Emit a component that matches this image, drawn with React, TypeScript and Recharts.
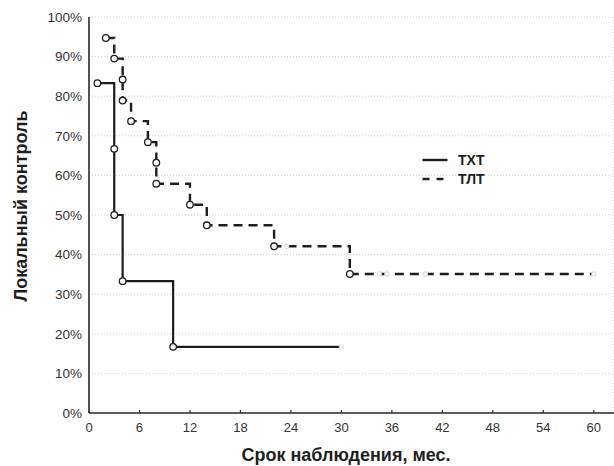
import React from "react";
import { LineChart, Line, XAxis, YAxis, CartesianGrid } from "recharts";

// Kaplan–Meier curves: time (months), survival (%), censored flag
const txtTimes = [1, 3, 3, 4, 10, 30];
const txtValues = [83.3, 66.7, 50.0, 33.3, 16.7, 16.7];
const txtCensored = [false, false, false, false, false, true];

const tltTimes = [2, 3, 4, 4, 5, 7, 8, 8, 12, 14, 22, 23.5, 31, 34.5, 35.4, 40, 60];
const tltValues = [94.7, 89.5, 84.2, 78.9, 73.7, 68.4, 63.2, 57.9, 52.6, 47.4, 42.1, 42.1, 35.1, 35.1, 35.1, 35.1, 35.1];
const tltCensored = [false, false, false, false, false, false, false, false, false, false, false, true, false, true, true, true, true];

const xTicks = [0, 6, 12, 18, 24, 30, 36, 42, 48, 54, 60];
const yTicks = [0, 10, 20, 30, 40, 50, 60, 70, 80, 90, 100];
const topTicks = [2.1, 10.8, 19.5, 28.2, 36.9, 45.6, 54.3];

const seriesNames = ["ТХТ", "ТЛТ"];
const xLabel = "Срок наблюдения, мес.";
const yLabel = "Локальный контроль";

const build = (t: number[], v: number[], c: boolean[]) =>
  t.map((time, i) => ({ time, value: v[i], censored: c[i] }));

const txtData = build(txtTimes, txtValues, txtCensored);
const tltData = build(tltTimes, tltValues, tltCensored);

const FONT = "'Liberation Sans', Arial, sans-serif";
const INK = "#1e1e1e";

const Dot = (props: any) => {
  const { cx, cy, payload, index } = props;
  if (cx == null || cy == null) return <g key={index} />;
  if (payload.censored) {
    return <circle key={index} cx={cx} cy={cy} r={2.2} fill="#fff" stroke="#d8d8d8" strokeWidth={1} />;
  }
  return <circle key={index} cx={cx} cy={cy} r={3.3} fill="#fff" stroke={INK} strokeWidth={1.3} />;
};

const BOTTOM_MARGIN = 10;
const BottomTick = (props: any) => {
  const { x, y, payload } = props;
  const axisY = y - BOTTOM_MARGIN;
  return (
    <g>
      <line x1={x} x2={x} y1={axisY} y2={axisY - 3} stroke="#333" strokeWidth={1.2} />
      <text x={x} y={y} dy="0.71em" textAnchor="middle" fontSize={13} fill="#333" fontFamily={FONT}>
        {payload.value}
      </text>
    </g>
  );
};

const TopTick = (props: any) => {
  const { x, y } = props;
  return <line x1={x} x2={x} y1={y} y2={y + 3} stroke="#444" strokeWidth={1.4} />;
};

const LeftTick = (props: any) => {
  const { x, y, payload } = props;
  return (
    <text x={x} y={y} dy="0.355em" textAnchor="end" fontSize={13.5} fill="#333" fontFamily={FONT}>
      {`${payload.value}%`}
    </text>
  );
};

const LegendBox = () => (
  <div
    style={{
      position: "absolute",
      left: 422,
      top: 151,
      fontFamily: FONT,
      fontWeight: 700,
      fontSize: 14,
      color: INK,
      lineHeight: "18px",
    }}
  >
    {seriesNames.map((name, i) => (
      <div key={name} style={{ display: "flex", alignItems: "center", height: 18.5 }}>
        <svg width={26} height={10} style={{ marginRight: 10 }}>
          <line
            x1={0.5}
            x2={25.5}
            y1={5}
            y2={5}
            stroke={INK}
            strokeWidth={2.4}
            strokeDasharray={i === 1 ? "7 7" : undefined}
          />
        </svg>
        <span>{name}</span>
      </div>
    ))}
  </div>
);

export default function App() {
  return (
    <div style={{ position: "absolute", left: 0, top: 0, width: 614, height: 466, overflow: "hidden", background: "#fff" }}>
      <LineChart width={614} height={466} margin={{ top: 17, right: 0, bottom: 0, left: 0 }}>
        <CartesianGrid stroke="#cfcfcf" strokeDasharray="1 2" />
        <XAxis
          xAxisId="bottom"
          dataKey="time"
          type="number"
          domain={[0, 62.4]}
          ticks={xTicks}
          allowDataOverflow
          height={53}
          tickSize={0}
          tickMargin={BOTTOM_MARGIN}
          tickLine={false}
          tick={<BottomTick />}
          axisLine={{ stroke: "#2a2a2a", strokeWidth: 1.6 }}
          interval={0}
          label={({ viewBox }: any) => (
            <text
              x={viewBox.x + 257}
              y={viewBox.y + 48}
              textAnchor="middle"
              fontSize={18}
              fontWeight={700}
              fill={INK}
              fontFamily={FONT}
            >
              {xLabel}
            </text>
          )}
        />
        <XAxis
          xAxisId="top"
          orientation="top"
          dataKey="time"
          type="number"
          domain={[0, 62.4]}
          ticks={topTicks}
          allowDataOverflow
          height={0}
          tickSize={0}
          tickMargin={0}
          tickLine={false}
          tick={<TopTick />}
          axisLine={{ stroke: "#555", strokeWidth: 1.8 }}
          interval={0}
        />
        <YAxis
          type="number"
          domain={[0, 100]}
          ticks={yTicks}
          width={89}
          tickSize={0}
          tickMargin={7}
          tickLine={false}
          tick={<LeftTick />}
          axisLine={{ stroke: "#2a2a2a", strokeWidth: 1.6 }}
          interval={0}
          label={({ viewBox }: any) => {
            const cx = 21;
            const cy = viewBox.y + viewBox.height / 2 - 9;
            return (
              <text
                x={cx}
                y={cy}
                transform={`rotate(-90, ${cx}, ${cy})`}
                textAnchor="middle"
                dominantBaseline="central"
                fontSize={18}
                fontWeight={700}
                fill={INK}
                fontFamily={FONT}
              >
                {yLabel}
              </text>
            );
          }}
        />
        <Line
          xAxisId="bottom"
          data={txtData}
          dataKey="value"
          name={seriesNames[0]}
          type="stepAfter"
          stroke={INK}
          strokeWidth={2.2}
          dot={<Dot />}
          activeDot={false}
          isAnimationActive={false}
        />
        <Line
          xAxisId="bottom"
          data={tltData}
          dataKey="value"
          name={seriesNames[1]}
          type="stepAfter"
          stroke={INK}
          strokeWidth={2.4}
          strokeDasharray="9 6"
          dot={<Dot />}
          activeDot={false}
          isAnimationActive={false}
        />
      </LineChart>
      <LegendBox />
    </div>
  );
}
